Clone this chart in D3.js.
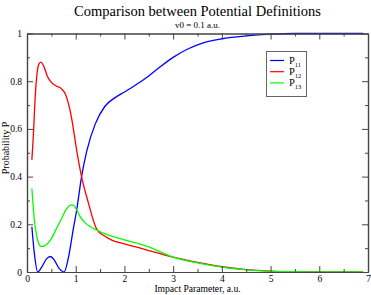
<!DOCTYPE html>
<html>
<head>
<meta charset="utf-8">
<script src="https://cdn.jsdelivr.net/npm/d3@7"></script>
<style>
  body { margin: 0; background: #fff; }
</style>
</head>
<body>
<div id="chart"></div>
<script>
// impact parameter (a.u.) and probabilities
const p11X = [0.1, 0.15, 0.22, 0.3, 0.4, 0.48, 0.56, 0.66, 0.76, 0.85, 0.95, 1.02, 1.12, 1.23, 1.4, 1.6, 1.8, 2.0, 2.2, 2.42, 2.7, 3.0, 3.3, 3.6, 4.0, 4.5, 5.0, 5.5, 6.0, 6.9];
const p11Y = [0.19, 0.08, 0.0, 0.02, 0.055, 0.065, 0.05, 0.015, 0.0, 0.06, 0.18, 0.26, 0.40, 0.51, 0.62, 0.695, 0.73, 0.755, 0.78, 0.81, 0.855, 0.9, 0.935, 0.96, 0.978, 0.99, 0.997, 1.0, 1.0, 1.0];

const p12X = [0.1, 0.13, 0.17, 0.2, 0.24, 0.28, 0.34, 0.42, 0.5, 0.6, 0.71, 0.8, 0.87, 0.92, 1.02, 1.12, 1.26, 1.43, 1.6, 1.74, 2.0, 2.22, 2.5, 2.75, 3.0, 3.5, 4.0, 4.5, 5.0, 5.5, 6.0, 6.9];
const p12Y = [0.47, 0.57, 0.74, 0.82, 0.87, 0.88, 0.865, 0.82, 0.795, 0.78, 0.768, 0.74, 0.69, 0.64, 0.51, 0.40, 0.29, 0.18, 0.15, 0.134, 0.118, 0.106, 0.09, 0.076, 0.062, 0.04, 0.022, 0.01, 0.004, 0.001, 0.0, 0.0];

const p13X = [0.1, 0.15, 0.2, 0.25, 0.3, 0.4, 0.5, 0.6, 0.7, 0.8, 0.9, 0.95, 1.02, 1.09, 1.2, 1.3, 1.43, 1.6, 1.81, 2.0, 2.22, 2.5, 2.75, 3.0, 3.5, 4.0, 4.5, 5.0, 5.5, 6.0, 6.9];
const p13Y = [0.35, 0.22, 0.15, 0.115, 0.106, 0.115, 0.14, 0.18, 0.22, 0.26, 0.28, 0.28, 0.26, 0.232, 0.205, 0.19, 0.176, 0.16, 0.146, 0.135, 0.123, 0.105, 0.083, 0.062, 0.038, 0.02, 0.009, 0.003, 0.001, 0.0, 0.0];

const seriesNames = ["P11", "P12", "P13"];
const seriesColors = ["#0000ff", "#ff0000", "#00ff00"];
const xTicks = [0, 1, 2, 3, 4, 5, 6, 7];
const yTicks = [0, 0.2, 0.4, 0.6, 0.8, 1];

const w = 371, h = 295;
const mLeft = 27, mRight = 368, mTop = 33.5, mBottom = 272;
const serif = '"Liberation Serif", "Times New Roman", serif';

const svg = d3.select("#chart").append("svg")
  .attr("width", w)
  .attr("height", h)
  .attr("font-family", serif);

const x = d3.scaleLinear().domain([0, 7]).range([mLeft, mRight]);
const y = d3.scaleLinear().domain([0, 1]).range([mBottom, mTop]);

// titles
svg.append("text")
  .attr("x", (mLeft + mRight) / 2).attr("y", 16)
  .attr("text-anchor", "middle")
  .attr("font-family", serif)
  .attr("font-size", 14.5)
  .text("Comparison between Potential Definitions");
svg.append("text")
  .attr("x", (mLeft + mRight) / 2).attr("y", 27.5)
  .attr("text-anchor", "middle")
  .attr("font-family", serif)
  .attr("font-size", 9)
  .text("v0 = 0.1 a.u.");

// curves
const data = [
  p11X.map((d, i) => [d, p11Y[i]]),
  p12X.map((d, i) => [d, p12Y[i]]),
  p13X.map((d, i) => [d, p13Y[i]])
];
const line = d3.line()
  .x(d => x(d[0]))
  .y(d => y(d[1]))
  .curve(d3.curveMonotoneX);

svg.append("g").selectAll("path")
  .data(data)
  .enter()
  .append("path")
  .attr("d", line)
  .attr("fill", "none")
  .attr("stroke", (d, i) => seriesColors[i])
  .attr("stroke-width", 1.3);

// frame and inward ticks on all four sides
const axisG = svg.append("g");
const xMinor = d3.range(0.5, 7, 1);
const yMinor = d3.range(0.1, 1, 0.2);

const bAxis = d3.axisBottom(x).tickValues(xTicks).tickSizeInner(-6).tickSizeOuter(0).tickPadding(3).tickFormat(d3.format("d"));
const tAxis = d3.axisTop(x).tickValues(xTicks).tickSizeInner(-6).tickSizeOuter(0).tickFormat("");
const lAxis = d3.axisLeft(y).tickValues(yTicks).tickSizeInner(-6).tickSizeOuter(0).tickPadding(5).tickFormat(d => d === 0 || d === 1 ? d3.format("d")(d) : d3.format(".1f")(d));
const rAxis = d3.axisRight(y).tickValues(yTicks).tickSizeInner(-6).tickSizeOuter(0).tickFormat("");

axisG.append("g").attr("transform", `translate(0,${mBottom})`).call(bAxis);
axisG.append("g").attr("transform", `translate(0,${mTop})`).call(tAxis);
axisG.append("g").attr("transform", `translate(${mLeft},0)`).call(lAxis);
axisG.append("g").attr("transform", `translate(${mRight},0)`).call(rAxis);

axisG.append("g").attr("transform", `translate(0,${mBottom})`)
  .call(d3.axisBottom(x).tickValues(xMinor).tickSizeInner(-3).tickSizeOuter(0).tickFormat(""));
axisG.append("g").attr("transform", `translate(0,${mTop})`)
  .call(d3.axisTop(x).tickValues(xMinor).tickSizeInner(-3).tickSizeOuter(0).tickFormat(""));
axisG.append("g").attr("transform", `translate(${mLeft},0)`)
  .call(d3.axisLeft(y).tickValues(yMinor).tickSizeInner(-3).tickSizeOuter(0).tickFormat(""));
axisG.append("g").attr("transform", `translate(${mRight},0)`)
  .call(d3.axisRight(y).tickValues(yMinor).tickSizeInner(-3).tickSizeOuter(0).tickFormat(""));

axisG.selectAll("g").attr("font-family", serif).attr("font-size", 9.5);
axisG.selectAll(".domain").attr("stroke", "#444").attr("stroke-width", 1.2);
axisG.selectAll(".tick line").attr("stroke", "#444");
axisG.selectAll(".tick text").attr("fill", "#000");

// axis titles
svg.append("text")
  .attr("x", (mLeft + mRight) / 2).attr("y", 292)
  .attr("text-anchor", "middle")
  .attr("font-family", serif)
  .attr("font-size", 9.6)
  .text("Impact Parameter, a.u.");
svg.append("text")
  .attr("transform", `translate(9,148) rotate(-90)`)
  .attr("text-anchor", "middle")
  .attr("font-family", serif)
  .attr("font-size", 10)
  .text("Probability P");

// legend
const legend = svg.append("g");
legend.append("rect")
  .attr("x", 266.5).attr("y", 51.5)
  .attr("width", 40).attr("height", 45)
  .attr("fill", "#fff")
  .attr("stroke", "#666");
const rows = legend.selectAll("g.row")
  .data(seriesNames)
  .enter()
  .append("g")
  .attr("class", "row")
  .attr("transform", (d, i) => `translate(270,${60.5 + i * 11.2})`);
rows.append("line")
  .attr("x1", 0).attr("x2", 14)
  .attr("stroke", (d, i) => seriesColors[i])
  .attr("stroke-width", 1.2);
const lt = rows.append("text")
  .attr("x", 19).attr("y", 3.5)
  .attr("font-family", serif)
  .attr("font-size", 10.5);
lt.append("tspan").text(d => d[0]);
lt.append("tspan")
  .attr("dy", 2.5)
  .attr("font-size", 6.5)
  .text(d => d.slice(1));
</script>
</body>
</html>
